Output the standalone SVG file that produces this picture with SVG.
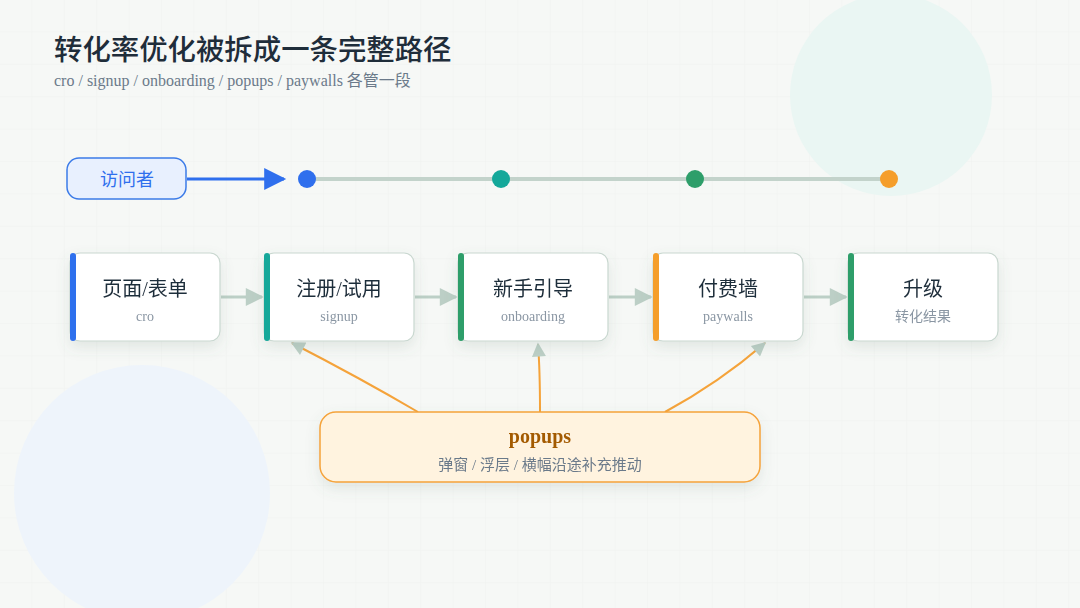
<svg xmlns="http://www.w3.org/2000/svg" width="1080" height="608" viewBox="0 0 1080 608">
<defs>
<pattern id="grid" width="32.4" height="32.4" patternUnits="userSpaceOnUse">
<path d="M32.4 0V32.4M0 32.4H32.4" fill="none" stroke="#f0f2f0" stroke-width="1"/>
</pattern>
<filter id="sh" x="-20%" y="-20%" width="140%" height="160%">
<feDropShadow dx="0" dy="6" stdDeviation="7" flood-color="#5a7a6a" flood-opacity="0.14"/>
</filter>
<marker id="gray" viewBox="0 0 10 10" refX="9" refY="5" markerWidth="20" markerHeight="18" orient="auto" markerUnits="userSpaceOnUse">
<path d="M0 0L10 5L0 10Z" fill="#bccfc6"/>
</marker>
<marker id="blue" viewBox="0 0 10 10" refX="9" refY="5" markerWidth="24" markerHeight="22" orient="auto" markerUnits="userSpaceOnUse">
<path d="M0 0L10 5L0 10Z" fill="#2f6fed"/>
</marker>
<marker id="pop" viewBox="0 0 10 10" refX="9" refY="5" markerWidth="16" markerHeight="14" orient="auto" markerUnits="userSpaceOnUse">
<path d="M0 0L10 5L0 10Z" fill="#bccfc6"/>
</marker>
</defs>
<style>
text{font-family:"Liberation Serif","Noto Sans CJK SC",serif;text-anchor:middle}
.card{fill:#ffffff;stroke:#c9d8d0;stroke-width:1.2}
.ct{font-size:20px;fill:#1f2d3a}
.cs{font-size:14px;fill:#8a96a3}
.flow{stroke:#bccfc6;stroke-width:3;fill:none}
.pl{stroke:#f5a33a;stroke-width:2;fill:none}
</style>
<rect width="1080" height="608" fill="#f6f8f6"/>
<rect width="1080" height="608" fill="url(#grid)"/>
<circle cx="891" cy="95" r="101" fill="#eaf6f3"/>
<circle cx="142" cy="493" r="128" fill="#eef4fb"/>

<text x="54" y="60" style="text-anchor:start;font-size:28.4px;fill:#1f2d3a;font-weight:500">转化率优化被拆成一条完整路径</text>
<text x="54" y="86" style="text-anchor:start;font-size:16px;fill:#6b7a8a">cro / signup / onboarding / popups / paywalls 各管一段</text>

<g id="connectors">
<line x1="187" y1="179" x2="284" y2="179" stroke="#2f6fed" stroke-width="3" marker-end="url(#blue)"/>
<line x1="307" y1="179" x2="889" y2="179" stroke="#c3d3cb" stroke-width="4"/>
<line class="flow" x1="221" y1="297" x2="262" y2="297" marker-end="url(#gray)"/>
<line class="flow" x1="415" y1="297" x2="456" y2="297" marker-end="url(#gray)"/>
<line class="flow" x1="609" y1="297" x2="651" y2="297" marker-end="url(#gray)"/>
<line class="flow" x1="804" y1="297" x2="846" y2="297" marker-end="url(#gray)"/>
<path class="pl" d="M418 412 Q360 378 292 343" marker-end="url(#pop)"/>
<path class="pl" d="M540 412 Q540 370 538 344" marker-end="url(#pop)"/>
<path class="pl" d="M665 412 Q720 382 765 343" marker-end="url(#pop)"/>
</g>

<g id="dots">
<circle cx="307" cy="179" r="9" fill="#2f6fed"/>
<circle cx="501" cy="179" r="9" fill="#14a89a"/>
<circle cx="695" cy="179" r="9" fill="#2e9e6a"/>
<circle cx="889" cy="179" r="9" fill="#f59e2a"/>
</g>

<g id="visitor">
<rect x="67" y="158" width="119" height="41" rx="12" fill="#e8f0fe" stroke="#3b7be8" stroke-width="1.5"/>
<text x="127" y="186" style="font-size:18px;fill:#2f6fed">访问者</text>
</g>

<g id="cro" filter="url(#sh)">
<rect class="card" x="70" y="253" width="150" height="88" rx="10"/>
<rect x="70" y="253" width="6" height="88" rx="3" fill="#2f6fed"/>
<text class="ct" x="145" y="296">页面/表单</text>
<text class="cs" x="145" y="321">cro</text>
</g>
<g id="signup" filter="url(#sh)">
<rect class="card" x="264" y="253" width="150" height="88" rx="10"/>
<rect x="264" y="253" width="6" height="88" rx="3" fill="#14a89a"/>
<text class="ct" x="339" y="296">注册/试用</text>
<text class="cs" x="339" y="321">signup</text>
</g>
<g id="onboarding" filter="url(#sh)">
<rect class="card" x="458" y="253" width="150" height="88" rx="10"/>
<rect x="458" y="253" width="6" height="88" rx="3" fill="#2e9e6a"/>
<text class="ct" x="533" y="296">新手引导</text>
<text class="cs" x="533" y="321">onboarding</text>
</g>
<g id="paywalls" filter="url(#sh)">
<rect class="card" x="653" y="253" width="150" height="88" rx="10"/>
<rect x="653" y="253" width="6" height="88" rx="3" fill="#f59e2a"/>
<text class="ct" x="728" y="296">付费墙</text>
<text class="cs" x="728" y="321">paywalls</text>
</g>
<g id="upgrade" filter="url(#sh)">
<rect class="card" x="848" y="253" width="150" height="88" rx="10"/>
<rect x="848" y="253" width="6" height="88" rx="3" fill="#2e9e6a"/>
<text class="ct" x="923" y="296">升级</text>
<text class="cs" x="923" y="321">转化结果</text>
</g>

<g id="popups" filter="url(#sh)">
<rect x="320" y="412" width="440" height="70" rx="16" fill="#fff3df" stroke="#f5a33a" stroke-width="1.5"/>
<text x="540" y="443" style="font-size:20px;font-weight:bold;fill:#a35a00">popups</text>
<text x="540" y="470" style="font-size:15px;fill:#6b7a8a">弹窗 / 浮层 / 横幅沿途补充推动</text>
</g>
</svg>
